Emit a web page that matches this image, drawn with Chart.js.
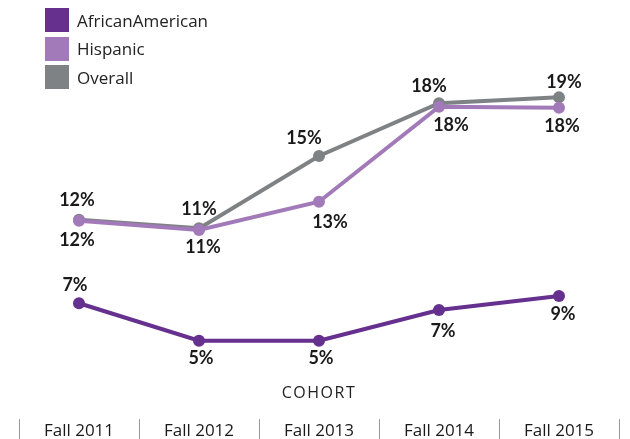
<!DOCTYPE html>
<html>
<head>
<meta charset="utf-8">
<script src="https://cdn.jsdelivr.net/npm/chart.js@4"></script>
<style>
  body { margin: 0; background: #fff; }
  .wrap { position: relative; width: 630px; height: 439px; }
  #legend { position: absolute; left: 45px; top: 8px; font-family: "Open Sans", Lato, sans-serif; font-size: 17px; color: #222; }
  #legend .item { display: flex; align-items: center; height: 24px; margin-bottom: 4.5px; }
  #legend .box { width: 24px; height: 24px; margin-right: 8px; }
</style>
</head>
<body>
<div class="wrap">
  <canvas id="line-chart" width="630" height="439"></canvas>
  <div id="legend"></div>
</div>
<script>
var cohorts = ["Fall 2011", "Fall 2012", "Fall 2013", "Fall 2014", "Fall 2015"];

var africanAmerican = [6.52, 4.41, 4.41, 6.14, 6.93];
var hispanic = [11.17, 10.65, 12.24, 17.59, 17.54];
var overall = [11.23, 10.74, 14.82, 17.79, 18.12];

// printed value labels
var africanAmericanLabels = ["7%", "5%", "5%", "7%", "9%"];
var hispanicLabels = ["12%", "11%", "13%", "18%", "18%"];
var overallLabels = ["12%", "11%", "15%", "18%", "19%"];

// label placement: dy (negative = above point), dx shift
var labelPlace = [
  { dy: [-18, 17, 17, 21, 18], dx: [-4, 2, 2, 4, 4] },
  { dy: [19, 17, 20, 18, 19], dx: [-2, 4, 11, 12, 3] },
  { dy: [-19, -19, -18, -17, -15], dx: [-2, 0, -15, -10, 5] }
];
var allLabels = [africanAmericanLabels, hispanicLabels, overallLabels];

var valueLabels = {
  id: 'valueLabels',
  afterDatasetsDraw: function(chart) {
    var ctx = chart.ctx;
    ctx.save();
    ctx.font = 'bold 18px Lato, "Open Sans", sans-serif';
    ctx.fillStyle = '#1a1a1a';
    ctx.textAlign = 'center';
    ctx.textBaseline = 'middle';
    chart.data.datasets.forEach(function(ds, i) {
      chart.getDatasetMeta(i).data.forEach(function(pt, j) {
        ctx.fillText(allLabels[i][j], pt.x + labelPlace[i].dx[j], pt.y + labelPlace[i].dy[j]);
      });
    });
    // axis caption
    ctx.font = '16px "Open Sans", Lato, sans-serif';
    ctx.letterSpacing = '1.5px';
    ctx.fillStyle = '#222';
    var a = chart.chartArea;
    ctx.fillText('COHORT', (a.left + a.right) / 2, 393);
    ctx.restore();
  }
};

var chart = new Chart(document.getElementById("line-chart"), {
  type: 'line',
  data: {
    labels: cohorts,
    datasets: [{
        label: "AfricanAmerican",
        data: africanAmerican,
        borderColor: "#66308f",
        backgroundColor: "#66308f"
      }, {
        label: "Hispanic",
        data: hispanic,
        borderColor: "#a27ab9",
        backgroundColor: "#a27ab9"
      }, {
        label: "Overall",
        data: overall,
        borderColor: "#7f8284",
        backgroundColor: "#7f8284"
      }
    ]
  },
  options: {
    responsive: false,
    animation: false,
    clip: false,
    elements: {
      line: { borderWidth: 4, tension: 0, fill: false },
      point: { radius: 6, borderWidth: 0, hoverRadius: 6 }
    },
    layout: { padding: { left: 19, right: 11, top: 64, bottom: 0 } },
    plugins: {
      legend: { display: false },
      title: { display: false },
      tooltip: { enabled: false }
    },
    scales: {
      y: { display: false, min: 0, max: 20 },
      x: {
        offset: true,
        border: { display: false },
        afterFit: function(scale) { scale.height = 20; },
        grid: { offset: true, drawOnChartArea: false, color: '#999', tickLength: 20, lineWidth: 1 },
        ticks: {
          padding: -18,
          color: '#1a1a1a',
          font: { family: '"Open Sans", Lato, sans-serif', size: 17 }
        }
      }
    }
  },
  plugins: [valueLabels]
});

// html legend
var legend = document.getElementById('legend');
chart.data.datasets.forEach(function(ds) {
  var item = document.createElement('div');
  item.className = 'item';
  var box = document.createElement('span');
  box.className = 'box';
  box.style.background = ds.backgroundColor;
  var txt = document.createElement('span');
  txt.textContent = ds.label;
  item.appendChild(box);
  item.appendChild(txt);
  legend.appendChild(item);
});
</script>
</body>
</html>
